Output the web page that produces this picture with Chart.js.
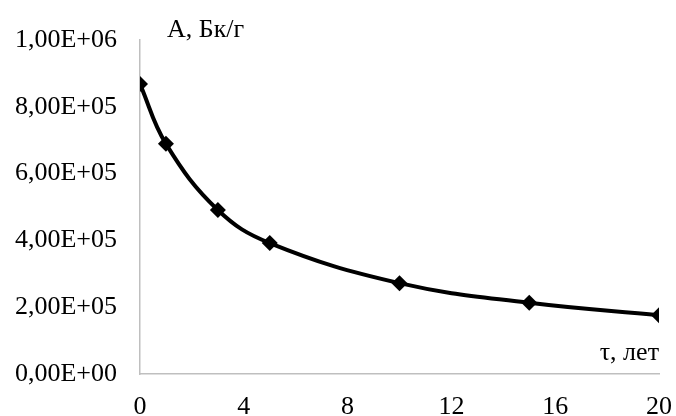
<!DOCTYPE html>
<html>
<head>
<meta charset="utf-8">
<script src="https://cdn.jsdelivr.net/npm/chart.js@4/dist/chart.umd.min.js"></script>
<style>
  html, body { margin: 0; padding: 0; background: #fff; }
  #wrap { width: 676px; height: 416px; }
</style>
</head>
<body>
<div id="wrap"><canvas id="myChart"></canvas></div>
<script>
const years = [0, 1, 3, 5, 10, 15, 20];
const activity = [868000, 689000, 491000, 392000, 272000, 213000, 176000];
const xTicks = [0, 4, 8, 12, 16, 20];
const yTicks = [0, 200000, 400000, 600000, 800000, 1000000];
const yTitle = "А, Бк/г";
const xTitle = "τ, лет";

const fontFamily = "'Liberation Serif', 'Times New Roman', serif";

function sci(v) {
  if (v === 0) return "0,00E+00";
  const e = Math.floor(Math.log10(v));
  const m = v / Math.pow(10, e);
  return m.toFixed(2).replace(".", ",") + "E+" + String(e).padStart(2, "0");
}

// axis titles drawn inside the plot area
const axisTitles = {
  id: "axisTitles",
  afterDraw(chart) {
    const ctx = chart.ctx;
    const area = chart.chartArea;
    ctx.save();
    ctx.fillStyle = "#000";
    ctx.font = "26px " + fontFamily;
    ctx.textBaseline = "alphabetic";
    ctx.textAlign = "left";
    ctx.fillText(yTitle, area.left + 27, area.top - 3);
    ctx.textAlign = "right";
    ctx.fillText(xTitle, area.right, area.bottom - 14);
    ctx.restore();
  }
};

const ctx = document.getElementById("myChart");

new Chart(ctx, {
  type: "line",
  data: {
    datasets: [
      {
        data: years.map((x, i) => ({ x: x, y: activity[i] })),
        borderColor: "#000",
        backgroundColor: "#000",
        borderWidth: 4,
        tension: 0.4,
        pointStyle: "rectRot",
        pointRadius: 8,
        pointBorderWidth: 0,
      },
    ],
  },
  options: {
    responsive: true,
    maintainAspectRatio: false,
    animation: false,
    layout: { padding: { top: 40, right: 17, left: 0, bottom: 0 } },
    plugins: {
      legend: { display: false },
      tooltip: { enabled: false },
    },
    scales: {
      x: {
        type: "linear",
        min: 0,
        max: 20,
        afterBuildTicks: (s) => { s.ticks = xTicks.map((v) => ({ value: v })); },
        afterFit: (s) => { s.height = 42; s.paddingLeft = 0; s.paddingRight = 0; },
        grid: { display: false, drawTicks: false },
        border: { color: "#bfbfbf", width: 1.5 },
        ticks: {
          color: "#000",
          padding: 18,
          font: { size: 26, family: fontFamily },
        },
      },
      y: {
        min: 0,
        max: 1000000,
        afterBuildTicks: (s) => { s.ticks = yTicks.map((v) => ({ value: v })); },
        afterFit: (s) => { s.width = 140; s.paddingTop = 0; s.paddingBottom = 0; },
        grid: { display: false, drawTicks: false },
        border: { color: "#bfbfbf", width: 1.5 },
        ticks: {
          color: "#000",
          padding: 23,
          font: { size: 26, family: fontFamily },
          callback: (v) => sci(v),
        },
      },
    },
  },
  plugins: [axisTitles],
});
</script>
</body>
</html>
